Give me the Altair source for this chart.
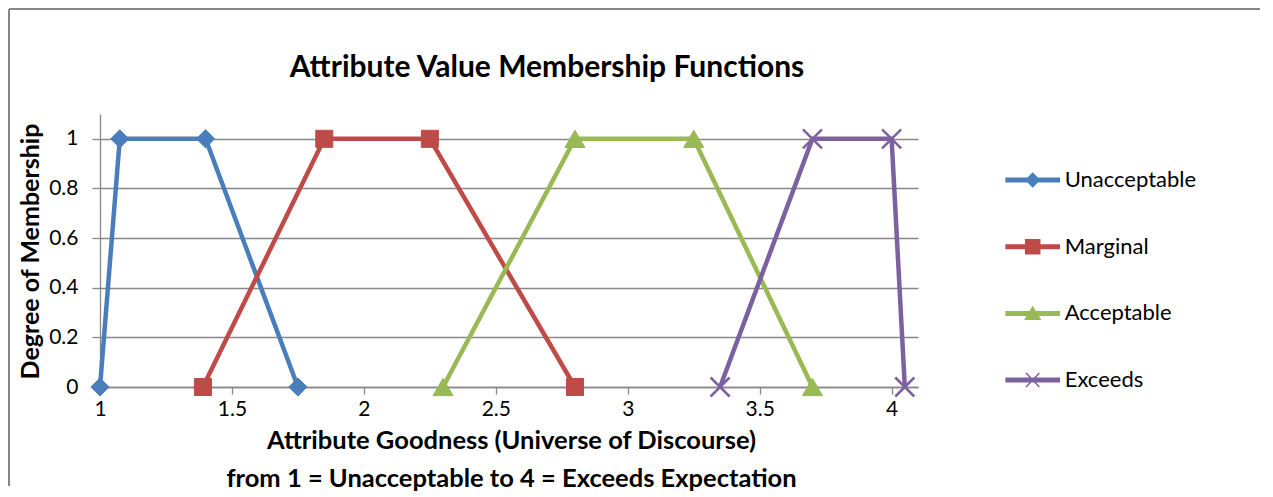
import altair as alt
import pandas as pd

# ---------------- data ----------------
series_names = ["Unacceptable", "Marginal", "Acceptable", "Exceeds"]
unacceptable_x = [1.0, 1.075, 1.4, 1.75]
unacceptable_y = [0, 1, 1, 0]
marginal_x = [1.39, 1.85, 2.25, 2.8]
marginal_y = [0, 1, 1, 0]
acceptable_x = [2.3, 2.8, 3.25, 3.7]
acceptable_y = [0, 1, 1, 0]
exceeds_x = [3.35, 3.7, 4.0, 4.05]
exceeds_y = [0, 1, 1, 0]
x_ticks = [1, 1.5, 2, 2.5, 3, 3.5, 4]
y_ticks = [0, 0.2, 0.4, 0.6, 0.8, 1]
series_colors = ["#4A7EBB", "#BE4B48", "#98B954", "#7D60A0"]

rows = []
for name, xs, ys in zip(series_names,
                        [unacceptable_x, marginal_x, acceptable_x, exceeds_x],
                        [unacceptable_y, marginal_y, acceptable_y, exceeds_y]):
    for i, (xv, yv) in enumerate(zip(xs, ys)):
        rows.append({"series": name, "x": xv, "y": yv, "order": i})
df = pd.DataFrame(rows)

# ---------------- style ----------------
W, H = 818, 273
FONT = "Lato"
GRID = "#878787"

x_title = ["Attribute Goodness (Universe of Discourse)",
           "from 1 = Unacceptable to 4 = Exceeds Expectation"]

x_enc = alt.X(
    "x:Q",
    scale=alt.Scale(domain=[1, 4.1], nice=False, zero=False),
    axis=alt.Axis(values=x_ticks, format="~g", grid=False, title=x_title,
                  titleLineHeight=38, titleX=411, titleY=53, titleFontSize=25.5,
                  titleBaseline="middle", titleAlign="center",
                  tickSize=7, labelPadding=4, labelFlush=False),
)
y_enc = alt.Y(
    "y:Q",
    scale=alt.Scale(domain=[0, 1.1], nice=False, zero=True),
    axis=alt.Axis(values=y_ticks, format="~g", grid=True,
                  title="Degree of Membership", titleX=-70, titleY=137,
                  titleAngle=270, titleAlign="center", titleBaseline="middle",
                  tickSize=8, labelPadding=14, labelFlush=False),
)

color_scale = alt.Scale(domain=series_names, range=series_colors)

# legend symbols: a thick line segment with the series marker in the middle
legend_paths = [
    "M-3.8,-0.25L3.8,-0.25L3.8,0.25L-3.8,0.25ZM-0.95,0L0,-0.95L0.95,0L0,0.95Z",
    "M-3.8,-0.25L3.8,-0.25L3.8,0.25L-3.8,0.25ZM-1,-1L1,-1L1,1L-1,1Z",
    "M-3.8,-0.25L3.8,-0.25L3.8,0.25L-3.8,0.25ZM0,-0.9L1.05,0.85L-1.05,0.85Z",
    "M-3.8,-0.25L3.8,-0.25L3.8,0.25L-3.8,0.25ZM-0.95,-1L0.95,1M-0.95,1L0.95,-1",
]
leg = alt.Legend(
    title=None, orient="none", legendX=921.7, legendY=55,
    symbolSize=196, symbolStrokeWidth=1.5, symbolOpacity=1,
    labelFont=FONT, labelFontSize=22, labelColor="black",
    labelOffset=21, rowPadding=44.7, padding=0,
)

base = alt.Chart(df)

legend_layer = base.transform_filter("false").mark_point(filled=True, opacity=1).encode(
    x=x_enc, y=y_enc,
    fill=alt.Fill("series:N", scale=color_scale, legend=leg),
    stroke=alt.Stroke("series:N", scale=color_scale, legend=leg),
    shape=alt.Shape("series:N", scale=alt.Scale(domain=series_names, range=legend_paths), legend=leg),
)

lines = base.mark_line(strokeWidth=4.5).encode(
    x=x_enc, y=y_enc,
    stroke=alt.Stroke("series:N", scale=color_scale),
    detail="series:N",
    order="order:Q",
)

marker_shapes = ["diamond", "square", "triangle-up", "M-1,-1L1,1M-1,1L1,-1"]
marker_sizes = [330, 290, 400, 361]
marker_strokes = [1, 1, 1, 2.5]

marker_layers = []
for name, shp, sz, sw in zip(series_names, marker_shapes, marker_sizes, marker_strokes):
    marker_layers.append(
        base.transform_filter(alt.datum.series == name)
        .mark_point(shape=shp, filled=True, opacity=1, size=sz, strokeWidth=sw)
        .encode(
            x=x_enc, y=y_enc,
            fill=alt.Fill("series:N", scale=color_scale),
            stroke=alt.Stroke("series:N", scale=color_scale),
        )
    )

# outer chart frame (top and left edges)
frame_df = pd.DataFrame({"k": [0]})
frame_top = alt.Chart(frame_df).mark_rule(color="#868686", strokeWidth=2).encode(
    x=alt.value(-91), x2=alt.value(1160), y=alt.value(-105))
frame_left = alt.Chart(frame_df).mark_rule(color="#868686", strokeWidth=2).encode(
    x=alt.value(-91), y=alt.value(-105), y2=alt.value(372))

chart = alt.layer(legend_layer, frame_top, frame_left, lines, *marker_layers).properties(
    width=W, height=H, padding=0, background="white",
    title=alt.TitleParams(
        "Attribute Value Membership Functions", font=FONT, fontSize=30,
        fontWeight="bold", color="black", anchor="middle", frame="group",
        offset=-99, baseline="alphabetic", dx=38,
    ),
).configure_view(stroke=None).configure_axis(
    labelFont=FONT, labelFontSize=21, labelColor="black",
    titleFont=FONT, titleFontSize=25, titleFontWeight="bold", titleColor="black",
    domainColor=GRID, domainWidth=1.3, tickColor=GRID, tickWidth=1.3,
    gridColor=GRID, gridWidth=1.3,
)

chart.save("out.html", embed_options={"renderer": "svg", "actions": False})
